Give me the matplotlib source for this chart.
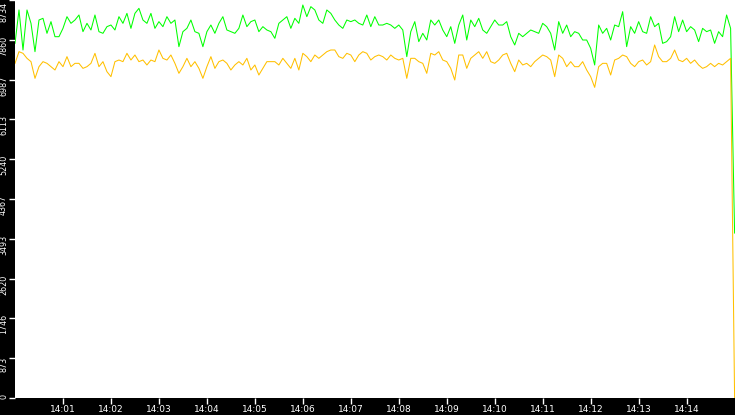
import numpy as np
import matplotlib
matplotlib.use("Agg")
import matplotlib.pyplot as plt
import matplotlib.transforms as mtransforms

# samples every 5 s starting at 14:00:00
step_s = 5

green = [7783, 8515, 7637, 8515, 8222, 7600, 8295, 8332, 8003, 8259, 7929, 7929, 8112, 8368, 8222,
         8295, 8405, 8039, 8222, 8076, 8405, 8039, 8003, 8149, 8185, 8076, 8368,
         8222, 8441, 8112, 8441, 8551, 8295, 8222, 8441, 8112, 8259, 8149, 8368, 8222, 8295, 7710,
         8039, 8112, 8295, 8039, 8003, 7710, 8039, 8185, 8003, 8222, 8368,
         8076, 8039, 8003, 8112, 8405, 8149, 8259, 8295, 8039, 8149, 8076, 8039, 7893, 8222, 8295,
         8368, 8112, 8332, 8222, 8624, 8368, 8588, 8515, 8295, 8222, 8515,
         8441, 8295, 8185, 8112, 8295, 8259, 8295, 8222, 8185, 8405, 8149, 8368, 8185, 8185, 8222,
         8185, 8112, 8185, 8076, 7491, 8039, 8259, 7820, 8003, 7856, 8295,
         8185, 8295, 8076, 7929, 8149, 7783, 8185, 8405, 7856, 8295, 8149, 8332, 8076, 8003, 8149,
         8295, 8185, 8185, 8259, 7929, 7747, 8003, 7929, 8003, 8076, 8039, 8003,
         8222, 8149, 8003, 7637, 8259, 8003, 8185, 7929, 8039, 8003, 7856, 7856, 7673, 7308, 8185,
         8003, 8112, 7856, 8185, 8149, 8478, 7710, 8149, 8003, 8259, 8039,
         8003, 8368, 8149, 8222, 7783, 7820, 7929, 8368, 8039, 8295, 8039, 8149, 8076, 7820, 8112,
         8039, 8076, 7783, 8039, 7929, 8405, 8112,
         3620]

yellow = [7344, 7600, 7564, 7454, 7381, 7015, 7271, 7381, 7344, 7271, 7198, 7381, 7271, 7491, 7271,
          7344, 7344, 7234, 7271, 7344, 7564, 7271, 7381, 7161, 7052, 7381, 7417,
          7381, 7564, 7417, 7527, 7381, 7417, 7308, 7417, 7381, 7637, 7454, 7417, 7527, 7344, 7125,
          7271, 7454, 7271, 7381, 7234, 7015, 7271, 7491, 7234, 7381, 7417,
          7344, 7198, 7308, 7381, 7308, 7454, 7198, 7308, 7088, 7234, 7381, 7381, 7381, 7308, 7454,
          7344, 7234, 7454, 7198, 7564, 7491, 7381, 7527, 7454, 7527, 7600,
          7637, 7637, 7491, 7454, 7564, 7527, 7381, 7527, 7600, 7564, 7417, 7491, 7527, 7491, 7417,
          7527, 7454, 7417, 7454, 7015, 7454, 7454, 7381, 7344, 7125, 7564,
          7527, 7600, 7417, 7381, 7234, 6978, 7527, 7527, 7234, 7454, 7527, 7600, 7454, 7600, 7381,
          7344, 7417, 7527, 7564, 7344, 7161, 7417, 7308, 7344, 7271, 7381, 7454,
          7527, 7491, 7417, 7052, 7527, 7454, 7271, 7381, 7271, 7271, 7381, 7198, 7052, 6817, 7271,
          7344, 7344, 7088, 7417, 7454, 7527, 7491, 7344, 7271, 7381, 7417,
          7308, 7381, 7747, 7491, 7381, 7381, 7454, 7637, 7417, 7381, 7454, 7344, 7417, 7308, 7234,
          7271, 7344, 7271, 7344, 7308, 7381, 7454,
          0]

y_labels = ["0", "873", "1746", "2620", "3493", "4367", "5240", "6113", "6987", "7860", "8734"]
x_labels = ["14:01", "14:02", "14:03", "14:04", "14:05", "14:06", "14:07",
            "14:08", "14:09", "14:10", "14:11", "14:12", "14:13", "14:14"]

t = np.arange(len(green)) * step_s

fig = plt.figure(figsize=(7.35, 4.15), dpi=100, facecolor="black")
ax = fig.add_axes([15 / 735, 17 / 415, 720 / 735, 398 / 415])
ax.set_facecolor("white")
for s in ax.spines.values():
    s.set_visible(False)

ax.plot(t, green, color="#00FF00", lw=0.75)
ax.plot(t, yellow, color="#FFC000", lw=0.75)

ax.set_xlim(0, 900.5)
ax.set_ylim(0, 8734)

ax.set_xticks([int(l[3:]) * 60 for l in x_labels])
ax.set_xticklabels(x_labels)
ax.set_yticks([float(l) for l in y_labels])
ax.set_yticklabels(y_labels, rotation=90, va="center")

ax.tick_params(colors="white", length=4, width=1, pad=1)
ax.tick_params(axis="x", labelsize=6.5)
ax.tick_params(axis="y", labelsize=5.8)

# nudge rotated y labels like the original
for lab in ax.get_yticklabels():
    dy = -0.06
    if lab.get_text() == "8734":
        dy = -0.12
    elif lab.get_text() == "0":
        dy = 0.02
    lab.set_transform(lab.get_transform() + mtransforms.ScaledTranslation(0, dy, fig.dpi_scale_trans))

fig.savefig("out.png", dpi=100, facecolor="black")
